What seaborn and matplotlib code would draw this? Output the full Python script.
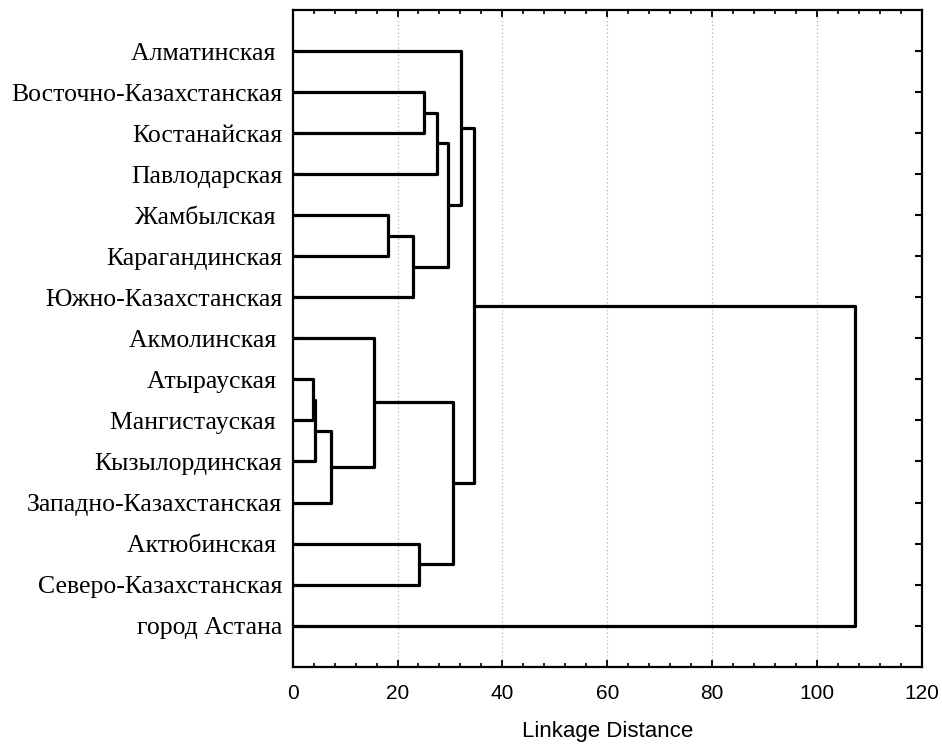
import numpy as np
import pandas as pd
import matplotlib
matplotlib.use("Agg")
import matplotlib.pyplot as plt
from matplotlib.ticker import MultipleLocator
import seaborn as sns

# Leaves, top to bottom
labels = [
    "Алматинская ",
    "Восточно-Казахстанская",
    "Костанайская",
    "Павлодарская",
    "Жамбылская ",
    "Карагандинская",
    "Южно-Казахстанская",
    "Акмолинская ",
    "Атырауская ",
    "Мангистауская ",
    "Кызылординская",
    "Западно-Казахстанская",
    "Актюбинская ",
    "Северо-Казахстанская",
    "город Астана",
]

# Linkage: node ids 0..14 are leaves, merges get ids 15, 16, ...
merge_a = [8, 15, 16, 7, 4, 19, 12, 1, 22, 23, 18, 0, 26, 27]
merge_b = [9, 10, 11, 17, 5, 6, 13, 2, 3, 20, 21, 24, 25, 14]
merge_h = [3.8, 4.25, 7.3, 15.6, 18.1, 22.9, 24.1, 25.1, 27.5, 29.6, 30.6, 32.1, 34.6, 107.2]

n = len(labels)
pos = {i: float(i) for i in range(n)}
hgt = {i: 0.0 for i in range(n)}
rows = []
for k, (a, b, h) in enumerate(zip(merge_a, merge_b, merge_h)):
    node = n + k
    xs = [hgt[a], h, h, hgt[b]]
    ys = [pos[a], pos[a], pos[b], pos[b]]
    for j, (xx, yy) in enumerate(zip(xs, ys)):
        rows.append({"seg": k, "order": j, "x": xx, "y": yy})
    pos[node] = (pos[a] + pos[b]) / 2
    hgt[node] = h
segs = pd.DataFrame(rows)

sns.set_theme(style="white")
plt.rcParams["font.family"] = ["Liberation Sans", "DejaVu Sans"]
plt.rcParams["text.color"] = "black"
plt.rcParams["axes.labelcolor"] = "black"
plt.rcParams["xtick.color"] = "black"
plt.rcParams["ytick.color"] = "black"

fig = plt.figure(figsize=(9.42, 7.44), dpi=100)
ax = fig.add_axes([0.3107, 0.1039, 0.9785 - 0.3107, 0.9866 - 0.1039])

sns.lineplot(data=segs, x="x", y="y", units="seg", estimator=None, sort=False,
             color="black", linewidth=2.3, ax=ax, legend=False)

ax.set_xlim(0, 120)
ax.set_ylim(n, -1)
ax.set_yticks(range(n))
ax.set_yticklabels(labels, fontfamily=["Liberation Serif", "DejaVu Serif"], fontsize=18.5,
                   color="black")
ax.xaxis.set_major_locator(MultipleLocator(20))
ax.xaxis.set_minor_locator(MultipleLocator(4))
ax.tick_params(axis="x", which="major", labelsize=15, direction="in", length=5, width=1.3,
               top=True, bottom=True, pad=12.5, color="black", labelcolor="black")
ax.tick_params(axis="x", which="minor", direction="in", length=3, width=1.2,
               top=True, bottom=True, color="black")
ax.tick_params(axis="y", which="major", direction="in", length=5, width=1.5,
               left=True, right=True, pad=7.5, color="black", labelcolor="black")
ax.set_xlabel("Linkage Distance", fontsize=16, labelpad=13, color="black")
ax.set_ylabel("")

for g in [20, 40, 60, 80, 100]:
    ax.axvline(g, color="#bdbdbd", linestyle=(0, (1.2, 1.8)), linewidth=0.9, zorder=0)

for s in ax.spines.values():
    s.set_color("black")
    s.set_linewidth(1.6)

fig.savefig("out.png", dpi=100)
